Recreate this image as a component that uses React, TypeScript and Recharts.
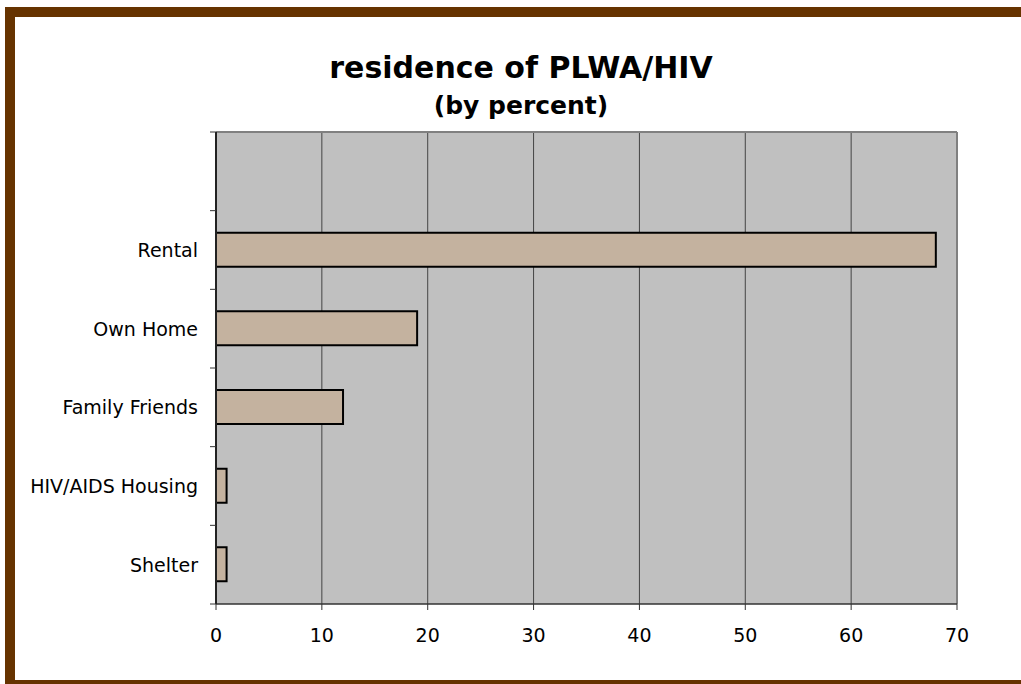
import React from "react";
import {
  BarChart,
  Bar,
  XAxis,
  YAxis,
  CartesianGrid,
  ReferenceLine,
} from "recharts";

// top band in the original is left empty
const categories = ["", "Rental", "Own Home", "Family Friends", "HIV/AIDS Housing", "Shelter"];
const percents = [null, 68, 19, 12, 1, 1];
const xTicks = [0, 10, 20, 30, 40, 50, 60, 70];

const data = categories.map((name, i) => ({ name, value: percents[i] }));

const FONT = "'DejaVu Sans', sans-serif";
const BROWN = "#663300";

const CategoryTick = (props: any) => {
  const { x, y, payload, index } = props;
  const half = payload && payload.offset ? payload.offset : 39.4;
  const isLast = index === categories.length - 1;
  return (
    <g>
      <line x1={x + 10} x2={x + 16} y1={y - half} y2={y - half} stroke="#333" strokeWidth={1} />
      {isLast && (
        <line x1={x + 10} x2={x + 16} y1={y + half} y2={y + half} stroke="#333" strokeWidth={1} />
      )}
      <text
        x={x - 2}
        y={y}
        dy="0.36em"
        textAnchor="end"
        fill="#000"
        fontSize={19}
        fontFamily={FONT}
      >
        {payload.value}
      </text>
    </g>
  );
};

export default function App() {
  return (
    <div
      style={{
        position: "absolute",
        left: 0,
        top: 0,
        width: 1021,
        height: 684,
        background: "#fff",
        overflow: "hidden",
      }}
    >
      {/* brown frame */}
      <div style={{ position: "absolute", left: 5, top: 7, width: 1016, height: 10, background: BROWN }} />
      <div style={{ position: "absolute", left: 5, top: 7, width: 10, height: 677, background: BROWN }} />
      <div style={{ position: "absolute", left: 5, top: 680, width: 1016, height: 4, background: BROWN }} />

      <div
        style={{
          position: "absolute",
          left: 0,
          width: 1042,
          top: 48,
          textAlign: "center",
          fontFamily: FONT,
          fontWeight: "bold",
          fontSize: 30,
          lineHeight: "40px",
          color: "#000",
        }}
      >
        residence of PLWA/HIV
      </div>
      <div
        style={{
          position: "absolute",
          left: 0,
          width: 1042,
          top: 89,
          textAlign: "center",
          fontFamily: FONT,
          fontWeight: "bold",
          fontSize: 25,
          lineHeight: "34px",
          color: "#000",
        }}
      >
        (by percent)
      </div>

      <div style={{ position: "absolute", left: 0, top: 0 }}>
        <BarChart
          width={1021}
          height={684}
          data={data}
          layout="vertical"
          margin={{ top: 132, right: 64, bottom: 40, left: 0 }}
          barCategoryGap={0}
        >
          <CartesianGrid horizontal={false} fill="#C0C0C0" stroke="#444" strokeOpacity={1} />
          <CartesianGrid
            vertical={false}
            stroke="#808080"
            strokeWidth={2}
            horizontalCoordinatesGenerator={({ offset }: any) => [offset.top]}
          />
          <ReferenceLine x={70} stroke="#808080" strokeWidth={2} />
          <XAxis
            type="number"
            domain={[0, 70]}
            ticks={xTicks}
            interval={0}
            height={40}
            axisLine={{ stroke: "#333", strokeWidth: 1.5 }}
            tickLine={{ stroke: "#333" }}
            tickSize={6}
            tickMargin={19}
            tick={{ fill: "#000", fontSize: 19, fontFamily: FONT }}
          />
          <YAxis
            type="category"
            dataKey="name"
            width={216}
            interval={0}
            axisLine={{ stroke: "#222", strokeWidth: 2 }}
            tickLine={false}
            tickSize={6}
            tickMargin={10}
            tick={<CategoryTick />}
          />
          <Bar
            dataKey="value"
            fill="#C4B29F"
            stroke="#000"
            strokeWidth={2}
            barSize={34}
            isAnimationActive={false}
          />
        </BarChart>
      </div>
    </div>
  );
}
